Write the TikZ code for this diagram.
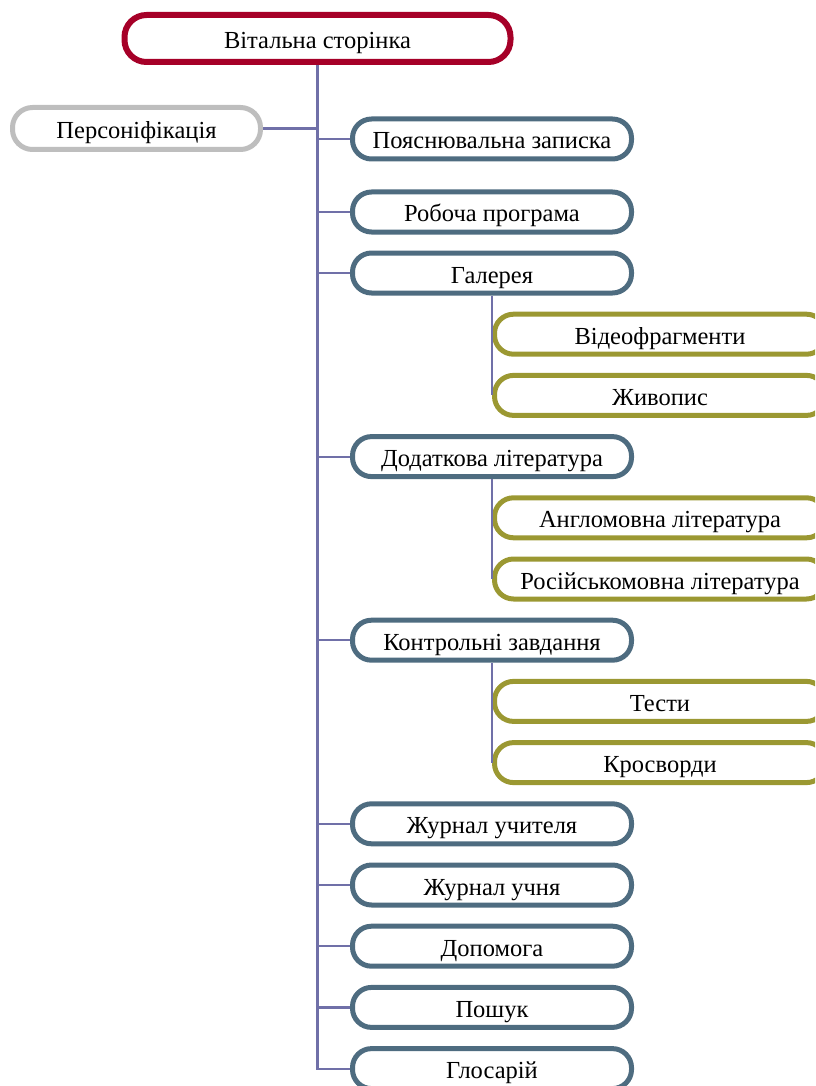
\documentclass[tikz,border=0pt]{standalone}
\usepackage{fontspec}
\setmainfont{Liberation Serif}
\definecolor{cred}{RGB}{166,0,40}
\definecolor{cblue}{RGB}{78,108,128}
\definecolor{cgreen}{RGB}{155,152,50}
\definecolor{cgrey}{RGB}{190,190,190}
\definecolor{cline}{RGB}{112,112,168}
\tikzset{
  box/.style={draw, fill=white, rectangle, rounded corners=19pt, inner sep=0pt,
    minimum height=40pt, line width=5pt,
    font=\fontsize{24.5}{29}\selectfont, text height=20pt, text depth=0pt},
  rootbox/.style={box, draw=cred, minimum width=386pt, minimum height=47pt, line width=6pt, rounded corners=22pt},
  sidebox/.style={box, draw=cgrey, minimum width=248pt, minimum height=42pt, rounded corners=20pt},
  mainbox/.style={box, draw=cblue, minimum width=279pt},
  subbox/.style={box, draw=cgreen, minimum width=331pt},
  conn/.style={draw=cline, line width=2.2pt}
}
\begin{document}
\begin{tikzpicture}[x=1pt,y=-1pt]
\useasboundingbox (0,0) rectangle (815,1086);
\clip (0,0) rectangle (815,1086);
\node[rootbox] (root) at (317.5,38.5) {Вітальна сторінка};
\node[sidebox] (pers) at (136.5,128.5) {Персоніфікація};
\node[mainbox] (expl) at (492,139) {Пояснювальна записка};
\node[mainbox] (prog) at (492,212) {Робоча програма};
\node[mainbox] (gal) at (492,273) {Галерея};
\node[subbox] (video) at (660,334.2) {Відеофрагменти};
\node[subbox] (paint) at (660,395.4) {Живопис};
\node[mainbox] (lit) at (492,456.6) {Додаткова література};
\node[subbox] (eng) at (660,517.8) {Англомовна література};
\node[subbox] (rus) at (660,579) {Російськомовна література};
\node[mainbox] (ctrl) at (492,640.2) {Контрольні завдання};
\node[subbox] (tests) at (660,701.4) {Тести};
\node[subbox] (cross) at (660,762.6) {Кросворди};
\node[mainbox] (jt) at (492,823.8) {Журнал учителя};
\node[mainbox] (js) at (492,885) {Журнал учня};
\node[mainbox] (help) at (492,946.2) {Допомога};
\node[mainbox] (search) at (492,1007.4) {Пошук};
\node[mainbox] (glos) at (492,1068.6) {Глосарій};
% trunk
\draw[conn] (root.south) -- (root.south |- glos.west) -- (glos.west);
\draw[conn] (pers.east) -- (pers.east -| root.south);
\foreach \n in {expl,prog,gal,lit,ctrl,jt,js,help,search}
  \draw[conn] (root.south |- \n.west) -- (\n.west);
% sub-branches
\draw[conn] (gal.south) -- (gal.south |- paint.west) -- (paint.west);
\draw[conn] (gal.south |- video.west) -- (video.west);
\draw[conn] (lit.south) -- (lit.south |- rus.west) -- (rus.west);
\draw[conn] (lit.south |- eng.west) -- (eng.west);
\draw[conn] (ctrl.south) -- (ctrl.south |- cross.west) -- (cross.west);
\draw[conn] (ctrl.south |- tests.west) -- (tests.west);
\end{tikzpicture}
\end{document}
